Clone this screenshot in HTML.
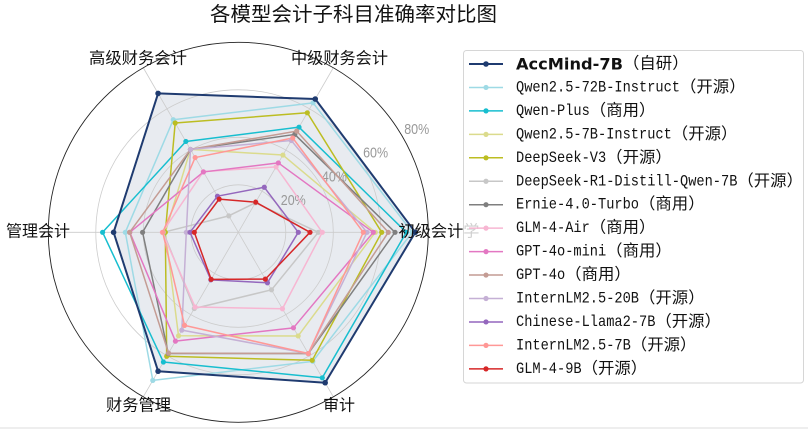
<!DOCTYPE html>
<html><head><meta charset="utf-8"><style>
html,body{margin:0;padding:0;background:#fff;}
svg{display:block;}
</style></head><body>
<svg width="808" height="429" viewBox="0 0 808 429" xmlns="http://www.w3.org/2000/svg">
<rect x="0" y="0" width="808" height="429" fill="#fff"/>
<rect x="0" y="427" width="808" height="2" fill="#eeeeee"/>

<!-- title -->
<text x="353.5" y="15" text-anchor="middle" dominant-baseline="central" font-family="Liberation Sans, Noto Sans CJK SC, sans-serif" font-size="20" fill="#111" textLength="287" lengthAdjust="spacingAndGlyphs">各模型会计子科目准确率对比图</text>

<!-- AccMind fill -->
<polygon points="415.3,232.3 315.25,99.02 158.1,93.39 113.6,232.3 158.1,371.21 325.15,382.72" fill="#1f3b70" fill-opacity="0.1" stroke="none"/>

<!-- grid -->
<g fill="none" stroke="#cccccc" stroke-width="0.8">
<circle cx="238.3" cy="232.3" r="47.5"/>
<circle cx="238.3" cy="232.3" r="95"/>
<circle cx="238.3" cy="232.3" r="142.5"/>
<line x1="238.3" y1="232.3" x2="428.3" y2="232.3"/>
<line x1="238.3" y1="232.3" x2="333.3" y2="67.76"/>
<line x1="238.3" y1="232.3" x2="143.3" y2="67.76"/>
<line x1="238.3" y1="232.3" x2="48.3" y2="232.3"/>
<line x1="238.3" y1="232.3" x2="143.3" y2="396.84"/>
<line x1="238.3" y1="232.3" x2="333.3" y2="396.84"/>
</g>
<circle cx="238.3" cy="232.3" r="190" fill="none" stroke="#222" stroke-width="0.9"/>

<!-- radial labels -->
<g font-family="Liberation Sans, sans-serif" font-size="15" fill="#999" text-anchor="middle" dominant-baseline="central">
<text x="293.3" y="200.5" textLength="25" lengthAdjust="spacingAndGlyphs">20%</text>
<text x="334.4" y="176.8" textLength="25" lengthAdjust="spacingAndGlyphs">40%</text>
<text x="375.6" y="153" textLength="25" lengthAdjust="spacingAndGlyphs">60%</text>
<text x="416.7" y="129.3" textLength="25" lengthAdjust="spacingAndGlyphs">80%</text>
</g>

<!-- series -->
<g fill="none" stroke-width="1.5" stroke-linejoin="round">
<polygon stroke="#9edae5" points="412.3,232.3 313.05,102.83 173.3,119.72 125.3,232.3 152.8,380.39 312.8,361.33"/>
<polygon stroke="#17becf" points="406.3,232.3 299.0,127.17 185.85,141.46 102.6,232.3 163.4,362.03 322.3,377.79"/>
<polygon stroke="#dbdb8d" points="375.3,232.3 282.9,155.05 190.45,149.42 165.3,232.3 178.55,335.79 298.15,335.96"/>
<polygon stroke="#bcbd22" points="381.7,232.3 307.3,112.79 175.2,123.01 165.3,232.3 166.7,356.31 312.2,360.3"/>
<polygon stroke="#c7c7c7" points="318.3,232.3 255.3,202.86 228.8,215.85 163.3,232.3 194.3,308.51 271.5,289.8"/>
<polygon stroke="#7f7f7f" points="395.0,232.3 294.8,134.44 190.45,149.42 142.6,232.3 168.3,353.54 308.3,353.54"/>
<polygon stroke="#f7b6d2" points="322.3,232.3 276.05,166.92 203.3,171.68 162.3,232.3 195.15,307.04 282.45,308.77"/>
<polygon stroke="#e377c2" points="373.3,232.3 278.35,162.93 203.45,171.94 129.8,232.3 175.45,341.16 293.45,327.82"/>
<polygon stroke="#c49c94" points="388.3,232.3 296.7,131.15 190.45,149.42 129.6,232.3 168.55,353.11 308.3,353.54"/>
<polygon stroke="#c5b0d5" points="367.0,232.3 291.3,140.5 190.45,149.42 186.3,232.3 181.8,330.16 308.3,353.54"/>
<polygon stroke="#9467bd" points="298.3,232.3 264.3,187.27 217.45,196.19 190.0,232.3 210.85,279.84 267.45,282.79"/>
<polygon stroke="#ff9896" points="363.3,232.3 292.75,137.99 195.15,157.56 162.7,232.3 184.55,325.4 308.3,353.54"/>
<polygon stroke="#d62728" points="310.0,232.3 255.7,202.16 219.15,199.13 194.3,232.3 211.15,279.32 265.35,279.15"/>
<polygon stroke="#1f3b70" stroke-width="2" points="415.3,232.3 315.25,99.02 158.1,93.39 113.6,232.3 158.1,371.21 325.15,382.72"/>
</g>

<!-- markers -->
<g fill="#9edae5"><circle cx="412.3" cy="232.3" r="2.6"/><circle cx="313.05" cy="102.83" r="2.6"/><circle cx="173.3" cy="119.72" r="2.6"/><circle cx="125.3" cy="232.3" r="2.6"/><circle cx="152.8" cy="380.39" r="2.6"/><circle cx="312.8" cy="361.33" r="2.6"/></g>
<g fill="#17becf"><circle cx="406.3" cy="232.3" r="2.6"/><circle cx="299.0" cy="127.17" r="2.6"/><circle cx="185.85" cy="141.46" r="2.6"/><circle cx="102.6" cy="232.3" r="2.6"/><circle cx="163.4" cy="362.03" r="2.6"/><circle cx="322.3" cy="377.79" r="2.6"/></g>
<g fill="#dbdb8d"><circle cx="375.3" cy="232.3" r="2.6"/><circle cx="282.9" cy="155.05" r="2.6"/><circle cx="190.45" cy="149.42" r="2.6"/><circle cx="165.3" cy="232.3" r="2.6"/><circle cx="178.55" cy="335.79" r="2.6"/><circle cx="298.15" cy="335.96" r="2.6"/></g>
<g fill="#bcbd22"><circle cx="381.7" cy="232.3" r="2.6"/><circle cx="307.3" cy="112.79" r="2.6"/><circle cx="175.2" cy="123.01" r="2.6"/><circle cx="165.3" cy="232.3" r="2.6"/><circle cx="166.7" cy="356.31" r="2.6"/><circle cx="312.2" cy="360.3" r="2.6"/></g>
<g fill="#c7c7c7"><circle cx="318.3" cy="232.3" r="2.6"/><circle cx="255.3" cy="202.86" r="2.6"/><circle cx="228.8" cy="215.85" r="2.6"/><circle cx="163.3" cy="232.3" r="2.6"/><circle cx="194.3" cy="308.51" r="2.6"/><circle cx="271.5" cy="289.8" r="2.6"/></g>
<g fill="#7f7f7f"><circle cx="395.0" cy="232.3" r="2.6"/><circle cx="294.8" cy="134.44" r="2.6"/><circle cx="190.45" cy="149.42" r="2.6"/><circle cx="142.6" cy="232.3" r="2.6"/><circle cx="168.3" cy="353.54" r="2.6"/><circle cx="308.3" cy="353.54" r="2.6"/></g>
<g fill="#f7b6d2"><circle cx="322.3" cy="232.3" r="2.6"/><circle cx="276.05" cy="166.92" r="2.6"/><circle cx="203.3" cy="171.68" r="2.6"/><circle cx="162.3" cy="232.3" r="2.6"/><circle cx="195.15" cy="307.04" r="2.6"/><circle cx="282.45" cy="308.77" r="2.6"/></g>
<g fill="#e377c2"><circle cx="373.3" cy="232.3" r="2.6"/><circle cx="278.35" cy="162.93" r="2.6"/><circle cx="203.45" cy="171.94" r="2.6"/><circle cx="129.8" cy="232.3" r="2.6"/><circle cx="175.45" cy="341.16" r="2.6"/><circle cx="293.45" cy="327.82" r="2.6"/></g>
<g fill="#c49c94"><circle cx="388.3" cy="232.3" r="2.6"/><circle cx="296.7" cy="131.15" r="2.6"/><circle cx="190.45" cy="149.42" r="2.6"/><circle cx="129.6" cy="232.3" r="2.6"/><circle cx="168.55" cy="353.11" r="2.6"/><circle cx="308.3" cy="353.54" r="2.6"/></g>
<g fill="#c5b0d5"><circle cx="367.0" cy="232.3" r="2.6"/><circle cx="291.3" cy="140.5" r="2.6"/><circle cx="190.45" cy="149.42" r="2.6"/><circle cx="186.3" cy="232.3" r="2.6"/><circle cx="181.8" cy="330.16" r="2.6"/><circle cx="308.3" cy="353.54" r="2.6"/></g>
<g fill="#9467bd"><circle cx="298.3" cy="232.3" r="2.6"/><circle cx="264.3" cy="187.27" r="2.6"/><circle cx="217.45" cy="196.19" r="2.6"/><circle cx="190.0" cy="232.3" r="2.6"/><circle cx="210.85" cy="279.84" r="2.6"/><circle cx="267.45" cy="282.79" r="2.6"/></g>
<g fill="#ff9896"><circle cx="363.3" cy="232.3" r="2.6"/><circle cx="292.75" cy="137.99" r="2.6"/><circle cx="195.15" cy="157.56" r="2.6"/><circle cx="162.7" cy="232.3" r="2.6"/><circle cx="184.55" cy="325.4" r="2.6"/><circle cx="308.3" cy="353.54" r="2.6"/></g>
<g fill="#d62728"><circle cx="310.0" cy="232.3" r="2.6"/><circle cx="255.7" cy="202.16" r="2.6"/><circle cx="219.15" cy="199.13" r="2.6"/><circle cx="194.3" cy="232.3" r="2.6"/><circle cx="211.15" cy="279.32" r="2.6"/><circle cx="265.35" cy="279.15" r="2.6"/></g>
<g fill="#1f3b70"><circle cx="415.3" cy="232.3" r="2.8"/><circle cx="315.25" cy="99.02" r="2.8"/><circle cx="158.1" cy="93.39" r="2.8"/><circle cx="113.6" cy="232.3" r="2.8"/><circle cx="158.1" cy="371.21" r="2.8"/><circle cx="325.15" cy="382.72" r="2.8"/></g>

<!-- axis labels -->
<g font-family="Liberation Sans, Noto Sans CJK SC, sans-serif" font-size="16" fill="#111" dominant-baseline="central">
<text x="138" y="59" text-anchor="middle" textLength="98" lengthAdjust="spacingAndGlyphs">高级财务会计</text>
<text x="339.5" y="59" text-anchor="middle" textLength="97" lengthAdjust="spacingAndGlyphs">中级财务会计</text>
<text x="38" y="232" text-anchor="middle" textLength="64" lengthAdjust="spacingAndGlyphs">管理会计</text>
<text x="398.5" y="232" text-anchor="start" textLength="81" lengthAdjust="spacingAndGlyphs">初级会计学</text>
<text x="138.5" y="406" text-anchor="middle" textLength="65" lengthAdjust="spacingAndGlyphs">财务管理</text>
<text x="339" y="406" text-anchor="middle" textLength="32" lengthAdjust="spacingAndGlyphs">审计</text>
</g>

<!-- legend -->
<rect x="463.5" y="50.5" width="340" height="332.5" rx="3" ry="3" fill="#ffffff" fill-opacity="0.8" stroke="#d6d6d6" stroke-width="1"/>
<g stroke-width="1.5">
<line x1="469" y1="64" x2="503" y2="64" stroke="#1f3b70" stroke-width="2"/>
<line x1="469" y1="87.45" x2="503" y2="87.45" stroke="#9edae5"/>
<line x1="469" y1="110.9" x2="503" y2="110.9" stroke="#17becf"/>
<line x1="469" y1="134.35" x2="503" y2="134.35" stroke="#dbdb8d"/>
<line x1="469" y1="157.8" x2="503" y2="157.8" stroke="#bcbd22"/>
<line x1="469" y1="181.25" x2="503" y2="181.25" stroke="#c7c7c7"/>
<line x1="469" y1="204.7" x2="503" y2="204.7" stroke="#7f7f7f"/>
<line x1="469" y1="228.15" x2="503" y2="228.15" stroke="#f7b6d2"/>
<line x1="469" y1="251.6" x2="503" y2="251.6" stroke="#e377c2"/>
<line x1="469" y1="275.05" x2="503" y2="275.05" stroke="#c49c94"/>
<line x1="469" y1="298.5" x2="503" y2="298.5" stroke="#c5b0d5"/>
<line x1="469" y1="321.95" x2="503" y2="321.95" stroke="#9467bd"/>
<line x1="469" y1="345.4" x2="503" y2="345.4" stroke="#ff9896"/>
<line x1="469" y1="368.85" x2="503" y2="368.85" stroke="#d62728"/>
</g>
<g>
<circle cx="486" cy="64" r="2.8" fill="#1f3b70"/>
<circle cx="486" cy="87.45" r="2.6" fill="#9edae5"/>
<circle cx="486" cy="110.9" r="2.6" fill="#17becf"/>
<circle cx="486" cy="134.35" r="2.6" fill="#dbdb8d"/>
<circle cx="486" cy="157.8" r="2.6" fill="#bcbd22"/>
<circle cx="486" cy="181.25" r="2.6" fill="#c7c7c7"/>
<circle cx="486" cy="204.7" r="2.6" fill="#7f7f7f"/>
<circle cx="486" cy="228.15" r="2.6" fill="#f7b6d2"/>
<circle cx="486" cy="251.6" r="2.6" fill="#e377c2"/>
<circle cx="486" cy="275.05" r="2.6" fill="#c49c94"/>
<circle cx="486" cy="298.5" r="2.6" fill="#c5b0d5"/>
<circle cx="486" cy="321.95" r="2.6" fill="#9467bd"/>
<circle cx="486" cy="345.4" r="2.6" fill="#ff9896"/>
<circle cx="486" cy="368.85" r="2.6" fill="#d62728"/>
</g>

<text x="516" y="64" dominant-baseline="central" font-family="DejaVu Sans, sans-serif" font-weight="bold" font-size="16.2" fill="#111" textLength="107" lengthAdjust="spacingAndGlyphs">AccMind-7B</text>

<g font-family="Liberation Mono, monospace" font-size="16" fill="#111" dominant-baseline="central">
<text x="516" y="87.45" textLength="164" lengthAdjust="spacingAndGlyphs">Qwen2.5-72B-Instruct</text>
<text x="516" y="110.9" textLength="73.8" lengthAdjust="spacingAndGlyphs">Qwen-Plus</text>
<text x="516" y="134.35" textLength="155.8" lengthAdjust="spacingAndGlyphs">Qwen2.5-7B-Instruct</text>
<text x="516" y="157.8" textLength="90.2" lengthAdjust="spacingAndGlyphs">DeepSeek-V3</text>
<text x="516" y="181.25" textLength="221.4" lengthAdjust="spacingAndGlyphs">DeepSeek-R1-Distill-Qwen-7B</text>
<text x="516" y="204.7" textLength="123" lengthAdjust="spacingAndGlyphs">Ernie-4.0-Turbo</text>
<text x="516" y="228.15" textLength="73.8" lengthAdjust="spacingAndGlyphs">GLM-4-Air</text>
<text x="516" y="251.6" textLength="90.2" lengthAdjust="spacingAndGlyphs">GPT-4o-mini</text>
<text x="516" y="275.05" textLength="49.2" lengthAdjust="spacingAndGlyphs">GPT-4o</text>
<text x="516" y="298.5" textLength="123" lengthAdjust="spacingAndGlyphs">InternLM2.5-20B</text>
<text x="516" y="321.95" textLength="139.4" lengthAdjust="spacingAndGlyphs">Chinese-Llama2-7B</text>
<text x="516" y="345.4" textLength="114.8" lengthAdjust="spacingAndGlyphs">InternLM2.5-7B</text>
<text x="516" y="368.85" textLength="65.6" lengthAdjust="spacingAndGlyphs">GLM-4-9B</text>
</g>

<g font-family="Liberation Sans, Noto Sans CJK SC, sans-serif" font-size="16" fill="#111" dominant-baseline="central">
<text x="623" y="64" textLength="65.6" lengthAdjust="spacingAndGlyphs">（自研）</text>
<text x="680" y="87.45" textLength="65.6" lengthAdjust="spacingAndGlyphs">（开源）</text>
<text x="589.8" y="110.9" textLength="65.6" lengthAdjust="spacingAndGlyphs">（商用）</text>
<text x="671.8" y="134.35" textLength="65.6" lengthAdjust="spacingAndGlyphs">（开源）</text>
<text x="606.2" y="157.8" textLength="65.6" lengthAdjust="spacingAndGlyphs">（开源）</text>
<text x="737.4" y="181.25" textLength="65.6" lengthAdjust="spacingAndGlyphs">（开源）</text>
<text x="639" y="204.7" textLength="65.6" lengthAdjust="spacingAndGlyphs">（商用）</text>
<text x="589.8" y="228.15" textLength="65.6" lengthAdjust="spacingAndGlyphs">（商用）</text>
<text x="606.2" y="251.6" textLength="65.6" lengthAdjust="spacingAndGlyphs">（商用）</text>
<text x="565.2" y="275.05" textLength="65.6" lengthAdjust="spacingAndGlyphs">（商用）</text>
<text x="639" y="298.5" textLength="65.6" lengthAdjust="spacingAndGlyphs">（开源）</text>
<text x="655.4" y="321.95" textLength="65.6" lengthAdjust="spacingAndGlyphs">（开源）</text>
<text x="630.8" y="345.4" textLength="65.6" lengthAdjust="spacingAndGlyphs">（开源）</text>
<text x="581.6" y="368.85" textLength="65.6" lengthAdjust="spacingAndGlyphs">（开源）</text>
</g>
</svg>
</body></html>
